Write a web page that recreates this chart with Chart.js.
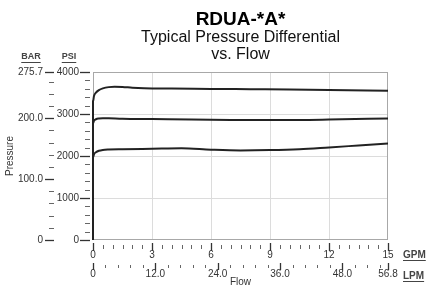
<!DOCTYPE html>
<html>
<head>
<meta charset="utf-8">
<script src="https://cdn.jsdelivr.net/npm/chart.js@4.4.1/dist/chart.umd.min.js"></script>
<style>
  html, body { margin: 0; padding: 0; background: #fff; }
</style>
</head>
<body>
<canvas id="chart" width="426" height="287"></canvas>
<script>
// ---- Data ----
const flowHigh = [0, 0, 0.05, 0.15, 0.3, 0.5, 0.8, 1.1, 1.5, 2, 2.6, 4, 6, 8, 10, 12, 15];
const psiHigh  = [0, 3300, 3430, 3510, 3570, 3610, 3640, 3650, 3645, 3625, 3612, 3605, 3598, 3590, 3582, 3572, 3555];

const flowMid = [0, 0, 0.05, 0.15, 0.3, 0.5, 0.8, 1.5, 3, 5, 7, 9.5, 12, 15];
const psiMid  = [0, 2770, 2840, 2875, 2893, 2900, 2898, 2888, 2880, 2868, 2860, 2855, 2868, 2895];

const flowLow = [0, 0, 0.05, 0.15, 0.3, 0.5, 0.8, 1.5, 3, 4.5, 6, 7.5, 9, 10.5, 12, 13.5, 15];
const psiLow  = [0, 1960, 2040, 2090, 2125, 2145, 2155, 2162, 2172, 2182, 2150, 2132, 2140, 2162, 2205, 2250, 2295];

// ---- Axis ticks / labels ----
const psiMax = 4000;
const psiLabels = [0, 1000, 2000, 3000, 4000];
const psiGridLines = [1000, 2000, 3000];
const psiMinorStep = 200;

const barMax = 275.79;              // 4000 psi in bar
const barLabelValues = [0, 100, 200, 275.79];
const barLabelText = ["0", "100.0", "200.0", "275.7"];
const barMinorStep = 20;

const gpmMax = 15;
const gpmLabels = [0, 3, 6, 9, 12, 15];
const gpmGridLines = [3, 6, 9, 12];
const gpmMinorStep = 0.5;

const lpmMax = 56.78;               // 15 gpm in lpm
const lpmLabelValues = [0, 12, 24, 36, 48, 56.78];
const lpmLabelText = ["0", "12.0", "24.0", "36.0", "48.0", "56.8"];
const lpmMinorStep = 2.4;

// ---- Helpers ----
const FONT = "'Liberation Sans', Arial, sans-serif";
const TEXT = "#333";

function stepTicks(step, max, extra) {
  const out = [];
  for (let i = 0; i * step <= max + 1e-9; i++) out.push(+(i * step).toFixed(4));
  if (extra !== undefined && Math.abs(out[out.length - 1] - extra) > 1e-6) out.push(extra);
  return out.map(v => ({ value: v }));
}
function near(list, v) { return list.findIndex(x => Math.abs(x - v) < 0.01); }
function pts(xs, ys) { return xs.map((x, i) => ({ x: x, y: ys[i] })); }

const curve = (xs, ys) => ({
  data: pts(xs, ys),
  xAxisID: "gpm",
  yAxisID: "psi",
  borderColor: "#222",
  borderWidth: 2,
  pointRadius: 0,
  cubicInterpolationMode: "monotone",
  fill: false,
  clip: 4
});

// ---- Decorations: frame, tick marks, unit headers ----
const decor = {
  id: "decor",
  beforeDatasetsDraw(chart) {
    const a = chart.chartArea, c = chart.ctx;
    c.save();
    c.strokeStyle = "#a8a8a8";
    c.lineWidth = 1;
    c.strokeRect(a.left + 0.5, a.top + 0.5, a.right - a.left - 1, a.bottom - a.top - 1);
    c.restore();
  },
  afterDraw(chart) {
    const c = chart.ctx, s = chart.scales, a = chart.chartArea;
    c.save();

    function hLine(x0, x1, y, major) {
      c.strokeStyle = major ? "#333" : "#666";
      c.lineWidth = major ? 1.3 : 1;
      c.beginPath(); c.moveTo(x0, Math.round(y) + 0.5); c.lineTo(x1, Math.round(y) + 0.5); c.stroke();
    }
    function vLine(x, y0, y1, major) {
      c.strokeStyle = major ? "#333" : "#666";
      c.lineWidth = major ? 1.3 : 1;
      c.beginPath(); c.moveTo(Math.round(x) + 0.5, y0); c.lineTo(Math.round(x) + 0.5, y1); c.stroke();
    }

    s.psi.ticks.forEach(t => {
      const major = near(psiLabels, t.value) >= 0;
      hLine(s.psi.right - (major ? 13 : 8), s.psi.right - 3, s.psi.getPixelForValue(t.value), major);
    });
    s.bar.ticks.forEach(t => {
      const major = near(barLabelValues, t.value) >= 0;
      hLine(s.bar.right - (major ? 12 : 8), s.bar.right - 3, s.bar.getPixelForValue(t.value), major);
    });
    s.gpm.ticks.forEach(t => {
      const major = near(gpmLabels, t.value) >= 0;
      vLine(s.gpm.getPixelForValue(t.value), s.gpm.top + (major ? 3 : 5), s.gpm.top + (major ? 11 : 9), major);
    });
    s.lpm.ticks.forEach(t => {
      const major = near(lpmLabelValues, t.value) >= 0;
      vLine(s.lpm.getPixelForValue(t.value), s.lpm.top + (major ? 1 : 3), s.lpm.top + (major ? 8 : 6), major);
    });

    // unit headers, underlined
    c.fillStyle = "#444";
    c.textBaseline = "middle";
    function unit(text, x, y, align, size) {
      c.font = "bold " + size + "px " + FONT;
      c.textAlign = align;
      c.fillText(text, x, y);
      const w = c.measureText(text).width;
      const x0 = align === "center" ? x - w / 2 : x;
      c.fillRect(x0, y + 5, w, 1);
    }
    unit("BAR", s.bar.right - 26, a.top - 15, "center", 9);
    unit("PSI", s.psi.right - 24, a.top - 15, "center", 9);
    unit("GPM", a.right + 15, s.gpm.top + 15, "left", 10);
    unit("LPM", a.right + 15, s.lpm.top + 14, "left", 10);

    c.restore();
  }
};

// ---- Chart ----
const ctx = document.getElementById("chart").getContext("2d");

new Chart(ctx, {
  type: "line",
  data: {
    datasets: [curve(flowHigh, psiHigh), curve(flowMid, psiMid), curve(flowLow, psiLow)]
  },
  plugins: [decor],
  options: {
    responsive: false,
    animation: false,
    events: [],
    layout: { padding: { left: 0, right: 38, top: 0, bottom: 0 } },
    plugins: {
      legend: { display: false },
      tooltip: { enabled: false },
      title: {
        display: true,
        text: "RDUA-*A*",
        fullSize: false,
        color: "#000",
        font: { family: FONT, size: 19, weight: "bold", lineHeight: 1 },
        padding: { top: 10.5, bottom: 0 }
      },
      subtitle: {
        display: true,
        text: ["Typical Pressure Differential", "vs. Flow"],
        fullSize: false,
        color: "#111",
        font: { family: FONT, size: 16, lineHeight: 17 / 16 },
        padding: { top: 0, bottom: 8.5 }
      }
    },
    scales: {
      psi: {
        type: "linear",
        position: "left",
        weight: 0,
        min: 0,
        max: psiMax,
        afterBuildTicks: sc => { sc.ticks = stepTicks(psiMinorStep, psiMax); },
        afterFit: sc => { sc.width = 36; },
        ticks: {
          padding: 14,
          autoSkip: false,
          color: TEXT,
          font: { family: FONT, size: 10 },
          callback: v => (near(psiLabels, v) >= 0 ? String(v) : "")
        },
        grid: {
          drawTicks: false,
          color: c => (c.tick && near(psiGridLines, c.tick.value) >= 0 ? "#dcdcdc" : "rgba(0,0,0,0)")
        },
        border: { display: false }
      },
      bar: {
        type: "linear",
        position: "left",
        weight: 1,
        min: 0,
        max: barMax,
        afterBuildTicks: sc => { sc.ticks = stepTicks(barMinorStep, barMax, barMax); },
        afterFit: sc => { sc.width = 57; },
        ticks: {
          padding: 14,
          autoSkip: false,
          color: TEXT,
          font: { family: FONT, size: 10 },
          callback: v => { const i = near(barLabelValues, v); return i >= 0 ? barLabelText[i] : ""; }
        },
        grid: { display: false, drawTicks: false },
        border: { display: false },
        title: {
          display: true,
          text: "Pressure",
          color: TEXT,
          font: { family: FONT, size: 10 },
          padding: { top: 4, bottom: 0 }
        }
      },
      gpm: {
        type: "linear",
        position: "bottom",
        weight: 0,
        min: 0,
        max: gpmMax,
        afterBuildTicks: sc => { sc.ticks = stepTicks(gpmMinorStep, gpmMax); },
        afterFit: sc => { sc.height = 22; },
        ticks: {
          padding: 9,
          autoSkip: false,
          maxRotation: 0,
          color: TEXT,
          font: { family: FONT, size: 10 },
          callback: v => (near(gpmLabels, v) >= 0 ? String(v) : "")
        },
        grid: {
          drawTicks: false,
          color: c => (c.tick && near(gpmGridLines, c.tick.value) >= 0 ? "#dcdcdc" : "rgba(0,0,0,0)")
        },
        border: { display: false }
      },
      lpm: {
        type: "linear",
        position: "bottom",
        weight: 1,
        min: 0,
        max: lpmMax,
        afterBuildTicks: sc => { sc.ticks = stepTicks(lpmMinorStep, lpmMax, lpmMax); },
        afterFit: sc => { sc.height = 25; },
        ticks: {
          padding: 6,
          autoSkip: false,
          maxRotation: 0,
          color: TEXT,
          font: { family: FONT, size: 10 },
          callback: v => { const i = near(lpmLabelValues, v); return i >= 0 ? lpmLabelText[i] : ""; }
        },
        grid: { display: false, drawTicks: false },
        border: { display: false },
        title: {
          display: true,
          text: "Flow",
          color: TEXT,
          font: { family: FONT, size: 10, lineHeight: 1 },
          padding: { top: 0, bottom: 0 }
        }
      }
    }
  }
});
</script>
</body>
</html>
